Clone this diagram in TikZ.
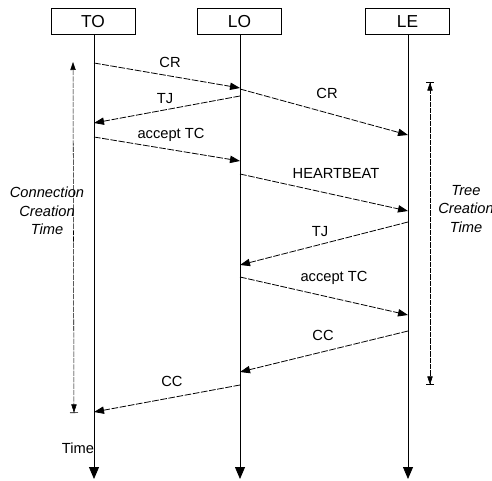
\documentclass[tikz,border=0pt]{standalone}
\usepackage{fontspec}
\setmainfont{Liberation Sans}
\usetikzlibrary{arrows.meta}

\tikzset{
	party/.style={draw, line width=0.6pt, minimum width=63pt, minimum height=20pt, inner sep=0pt, font=\fontsize{13}{15}\selectfont},
	life/.style={line width=0.6pt, -{Triangle[length=9pt, width=7.5pt]}},
	msg/.style={line width=0.6pt, dash pattern=on 5pt off 1.2pt, -{Triangle[length=7.5pt, width=5.5pt]}},
	lbl/.style={inner sep=0pt, font=\fontsize{11}{12}\selectfont},
	span/.style={line width=0.4pt, dash pattern=on 4pt off 0.8pt},
	spanlbl/.style={inner sep=0pt, align=center, font=\fontsize{11}{14}\selectfont\itshape}
}

\begin{document}
\begin{tikzpicture}[x=0.75pt, y=-0.75pt]
			%%%%% START %%%%%
			\useasboundingbox (0,0) rectangle (492,481);
			
			% parties
			\node[party] (TO) at (93, 21.5) {TO};
			\node[party] (LO) at (239.5, 21.5) {LO};
			\node[party] (LE) at (407.5, 21.5) {LE};
			
			% lifelines
			\coordinate (TOend) at (94, 479);
			\coordinate (LOend) at (240, 479);
			\coordinate (LEend) at (408, 479);
			\draw[life] (TO.south -| TOend) -- (TOend);
			\draw[life] (LO.south -| LOend) -- (LOend);
			\draw[life] (LE.south -| LEend) -- (LEend);
			
			% message end points
			\coordinate (to1) at (94, 63);   \coordinate (lo1) at (240, 88);
			\coordinate (lo2) at (240, 89);  \coordinate (le2) at (408, 135);
			\coordinate (lo3) at (240, 96);  \coordinate (to3) at (94, 123);
			\coordinate (to4) at (94, 137);  \coordinate (lo4) at (240, 161);
			\coordinate (lo5) at (240, 174); \coordinate (le5) at (408, 211);
			\coordinate (le6) at (408, 222); \coordinate (lo6) at (240, 265);
			\coordinate (lo7) at (240, 277); \coordinate (le7) at (408, 315);
			\coordinate (le8) at (408, 331); \coordinate (lo8) at (240, 372);
			\coordinate (lo9) at (240, 385); \coordinate (to9) at (94, 412);
			
			% messages
			\draw[msg] (to1) -- (lo1);
			\draw[msg] (lo2) -- (le2);
			\draw[msg] (lo3) -- (to3);
			\draw[msg] (to4) -- (lo4);
			\draw[msg] (lo5) -- (le5);
			\draw[msg] (le6) -- (lo6);
			\draw[msg] (lo7) -- (le7);
			\draw[msg] (le8) -- (lo8);
			\draw[msg] (lo9) -- (to9);
			
			\node[lbl] (lCRa) at (170, 62) {CR};
			\node[lbl] (lCRb) at (327, 93) {CR};
			\node[lbl] (lTJa) at (165, 99) {TJ};
			\node[lbl] (lACa) at (171, 135) {accept TC};
			\node[lbl] (lHB) at (336, 173) {HEARTBEAT};
			\node[lbl] (lTJb) at (320, 232) {TJ};
			\node[lbl] (lACb) at (334, 278) {accept TC};
			\node[lbl] (lCCa) at (323, 335) {CC};
			\node[lbl] (lCCb) at (172, 381) {CC};
			
			% creation times
			\coordinate (connTop) at (73, 62);
			\coordinate (connBot) at (74, 413);
			\draw[span, {Triangle[length=6pt, width=4pt]}-{Triangle[length=6pt, width=4pt] Bar[width=6pt]}] (connTop) -- (connBot);
			\node[spanlbl] (lConn) at (47, 211) {Connection\\Creation\\Time};
			
			\coordinate (treeTop) at (430, 82);
			\coordinate (treeBot) at (430, 385);
			\draw[span, {Bar[width=6pt] Triangle[length=6pt, width=4pt]}-{Triangle[length=6pt, width=4pt] Bar[width=6pt]}] (treeTop) -- (treeBot);
			\node[spanlbl] (lTree) at (466, 209) {Tree\\Creation\\Time};
			
			\node[lbl] (lTime) at (78, 448) {Time};
			%%%%% END %%%%%
\end{tikzpicture}
\end{document}
